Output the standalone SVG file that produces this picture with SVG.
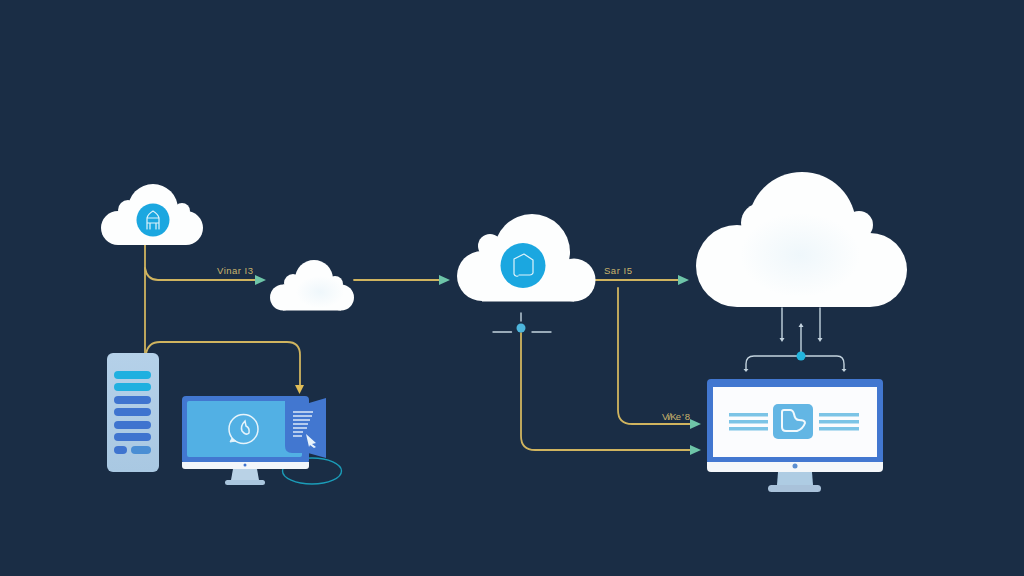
<svg xmlns="http://www.w3.org/2000/svg" width="1024" height="576" viewBox="0 0 1024 576">
<style>
.cloud{fill:#fdfefe}
.badge{fill:#1ba7e0}
.glyph{fill:none;stroke:#dff3fb;stroke-width:1.2;stroke-linecap:round;stroke-linejoin:round}
.wire{fill:none;stroke:#d0b45f;stroke-width:1.800;stroke-linecap:round}
.thin{fill:none;stroke:#c3d3de;stroke-width:1.400;stroke-linecap:round}
.tip{fill:#6ec5a8}
.gtip{fill:#e0bd57}
.wtip{fill:#c3d3de}
.lab{font-family:"Liberation Sans",sans-serif;font-size:9.500px;fill:#c9b46c}
.bar{fill:#3f74cf}
.cbar{fill:#1fb0e0}
.line{fill:#7cc4e6}
</style>
<defs>
<linearGradient id="tower" x1="0" y1="0" x2="0" y2="1"><stop offset="0" stop-color="#b5d1e9"/><stop offset="1" stop-color="#a9c8e2"/></linearGradient>
<radialGradient id="haze"><stop offset="0" stop-color="#e9f4fa" stop-opacity="0.7"/><stop offset="1" stop-color="#e9f4fa" stop-opacity="0"/></radialGradient>
</defs>
<rect width="1024" height="576" fill="#1a2d45"/>
<g id="connectors">
<path class="wire" d="M145 245V354"/>
<path class="wire" d="M145 268Q147 280 158 280H256"/>
<path class="wire" d="M146 354Q148 342 160 342H287Q300 342 300 355V386"/>
<path class="wire" d="M354 280H440"/>
<path class="wire" d="M595 280H679"/>
<path class="wire" d="M618 288V410Q618 424 632 424H691"/>
<path class="wire" d="M521 333V436Q521 450 535 450H691"/>
<polygon class="tip" points="255,275 266,280 255,285"/>
<polygon class="tip" points="439,275 450,280 439,285"/>
<polygon class="tip" points="678,275 689,280 678,285"/>
<polygon class="tip" points="690,419 701,424 690,429"/>
<polygon class="tip" points="690,445 701,450 690,455"/>
<polygon class="gtip" points="295,385 304,385 299.500,394"/>
<path class="thin" d="M521 313V321M493 332H511.500M532 332H551"/>
<circle cx="521" cy="328" r="4.500" fill="#4db5dc"/>
<path class="thin" d="M782 308V339M820 308V339M801 354V325"/>
<polygon class="wtip" points="779.500,338 784.500,338 782,342"/>
<polygon class="wtip" points="817.500,338 822.500,338 820,342"/>
<polygon class="wtip" points="798.500,327 803.500,327 801,323"/>
<path class="thin" d="M746 370V364Q746 356 754 356H837Q844 356 844 364V370"/>
<polygon class="wtip" points="743.500,369 748.500,369 746,372"/>
<polygon class="wtip" points="841.500,369 846.500,369 844,372"/>
<circle cx="801" cy="356" r="4.500" fill="#22b4dd"/>
<ellipse cx="312" cy="471" rx="29.500" ry="13" fill="none" stroke="#1b9cb8" stroke-width="1.400"/>
</g>
<text class="lab" x="217" y="274" textLength="36">Vinar I3</text>
<text class="lab" x="604" y="274" textLength="28">Sar I5</text>
<text class="lab" x="662" y="420" textLength="28">Vi/Ke ' 8</text>
<g id="cloud-a" class="cloud">
<circle cx="153" cy="209" r="25"/>
<circle cx="128" cy="210" r="10"/>
<circle cx="182" cy="211" r="8"/>
<circle cx="118" cy="228" r="17"/>
<circle cx="186" cy="228" r="17"/>
<rect x="118" y="215" width="68" height="30"/>
<circle class="badge" cx="153" cy="220" r="16.500"/>
<path class="glyph" d="M147 229V218Q148 214 153 211Q158 214 159 218V229M147 218H159M147 223H159M150 223V229M156 223V229"/>
</g>
<g id="cloud-b" class="cloud">
<circle cx="314" cy="279" r="19"/>
<circle cx="293" cy="283" r="9"/>
<circle cx="335" cy="284" r="8"/>
<circle cx="283" cy="297.500" r="13"/>
<circle cx="341" cy="297.500" r="13"/>
<rect x="283" y="284.500" width="58" height="26"/>
<ellipse cx="320" cy="292" rx="24" ry="16" fill="url(#haze)"/>
</g>
<g id="cloud-c" class="cloud">
<circle cx="532" cy="252" r="38"/>
<circle cx="490" cy="246" r="12"/>
<circle cx="482" cy="276" r="25"/>
<circle cx="574" cy="280" r="21.500"/>
<rect x="482" y="260" width="92" height="41.500"/>
<circle class="badge" cx="523" cy="265.500" r="22.500"/>
<path class="glyph" d="M514 274V259L524 254L533 260V273Q532 275 530 275H519M514 274Q515 277 518 276"/>
</g>
<g id="cloud-d" class="cloud">
<circle cx="802" cy="226" r="54"/>
<circle cx="761" cy="223" r="20"/>
<circle cx="859" cy="225" r="14"/>
<circle cx="737" cy="266" r="41"/>
<circle cx="870" cy="270" r="37"/>
<rect x="737" y="233" width="133" height="74"/>
<ellipse cx="800" cy="255" rx="60" ry="42" fill="url(#haze)"/>
</g>
<g id="server">
<rect x="107" y="353" width="52" height="119" rx="6" fill="url(#tower)"/>
<rect class="cbar" x="114" y="371" width="37" height="8" rx="4"/>
<rect class="cbar" x="114" y="383" width="37" height="8" rx="4"/>
<rect class="bar" x="114" y="396" width="37" height="8" rx="4"/>
<rect class="bar" x="114" y="408" width="37" height="8" rx="4"/>
<rect class="bar" x="114" y="421" width="37" height="8" rx="4"/>
<rect class="bar" x="114" y="433" width="37" height="8" rx="4"/>
<rect class="bar" x="114" y="446" width="13" height="8" rx="4"/>
<rect x="131" y="446" width="20" height="8" rx="4" fill="#4a8ed4"/>
</g>
<g id="monitor-left">
<path d="M233 469H257L259 480H231Z" fill="#b9d2e6"/>
<rect x="225" y="480" width="40" height="5" rx="2.500" fill="#aac6de"/>
<rect x="182" y="396" width="127" height="68" rx="4" fill="#4277d0"/>
<path d="M182 462H309V466Q309 469 306 469H185Q182 469 182 466Z" fill="#f2f6fa"/>
<rect x="187" y="401" width="115" height="56" rx="2" fill="#52b0e4"/>
<circle cx="243.500" cy="429" r="14.500" fill="none" stroke="#e7f4fb" stroke-width="1.500"/>
<path d="M232 438L230 442L236 441" fill="#e7f4fb" stroke="#e7f4fb" stroke-width="1"/>
<path d="M245 421Q240 426 242 431Q246 436 249 433Q250 428 246 426Z" fill="none" stroke="#e7f4fb" stroke-width="1.500"/>
<circle cx="245" cy="465" r="1.500" fill="#3f74cf"/>
<path d="M285 401H306L309 403L326 398V458L308 453H292Q285 453 285 446Z" fill="#4277d0"/>
<path d="M293 412H313M293 416H312M293 420H310M293 424H308M293 428H307M293 432H303M293 436H302" stroke="#dbe9f7" stroke-width="1.300" fill="none"/>
<path d="M306 434L316 443L312 444L316 447L314 448L310 445L309 447Z" fill="#e7f2fb"/>
</g>
<g id="monitor-right">
<path d="M778 472H812L813 485H777Z" fill="#aecce3"/>
<rect x="768" y="485" width="53" height="7" rx="3.500" fill="#a9c2da"/>
<rect x="707" y="379" width="176" height="86" rx="4" fill="#4277d0"/>
<path d="M707 462H883V468Q883 472 879 472H711Q707 472 707 468Z" fill="#f4f7fa"/>
<circle cx="795" cy="466" r="2.500" fill="#5b8ed1"/>
<rect x="713" y="387" width="164" height="70" fill="#fbfcfe"/>
<rect x="773" y="404" width="40" height="35" rx="5" fill="#63b6e4"/>
<path d="M782 412Q782 410 784 410H790Q793 410 794 414Q795 420 799 420Q805 420 805 423Q803 429 797 431H786Q782 431 782 427Z" fill="none" stroke="#f2f9fd" stroke-width="2" stroke-linejoin="round"/>
<rect class="line" x="729" y="413" width="39" height="3.500"/>
<rect class="line" x="729" y="420" width="39" height="3.500"/>
<rect class="line" x="729" y="427" width="39" height="3.500"/>
<rect class="line" x="819" y="413" width="40" height="3.500"/>
<rect class="line" x="819" y="420" width="40" height="3.500"/>
<rect class="line" x="819" y="427" width="40" height="3.500"/>
</g>
</svg>
